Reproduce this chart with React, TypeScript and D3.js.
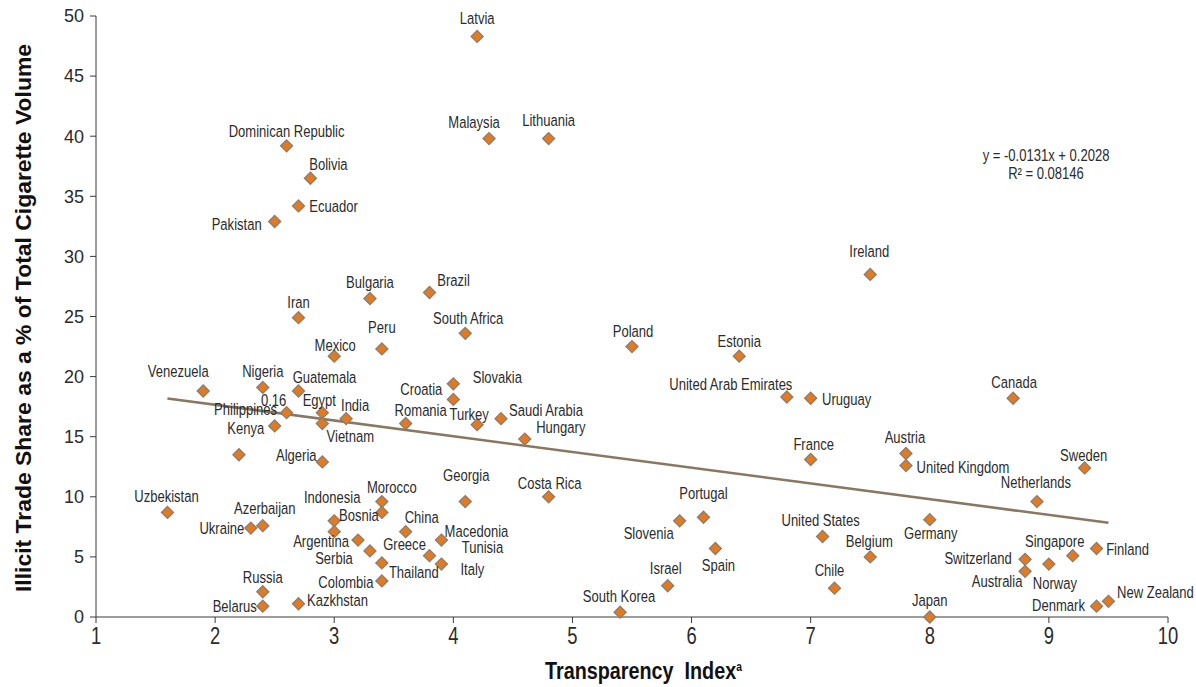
import React from "react";
import * as d3 from "d3";

// ---------- data ----------
const countries = [
  "Latvia", "Malaysia", "Lithuania", "Dominican Republic", "Bolivia", "Ecuador", "Pakistan",
  "Bulgaria", "Brazil", "Iran", "Peru", "South Africa", "Mexico", "Nigeria", "Guatemala",
  "Venezuela", "Philippines", "", "Egypt", "India", "Kenya", "Vietnam", "Algeria",
  "Uzbekistan", "Azerbaijan", "Ukraine", "Indonesia", " ", "Morocco", "Bosnia", "China",
  "Macedonia", "Argentina", "Greece", "Serbia", "Thailand", "Italy", "Russia", "Colombia",
  "Belarus", "Kazkhstan", "Georgia", "Croatia", "Slovakia", "Romania", "Turkey", "Saudi Arabia",
  "Hungary", "Costa Rica", "Portugal", "Slovenia", "Spain", "Israel", "South Korea",
  "United States", "Chile", "Belgium", "Germany", "Japan", "Switzerland", "Australia", "Norway",
  "Singapore", "Finland", "Denmark", "New Zealand", "Netherlands", "Sweden", "Austria",
  "United Kingdom", "France", "Canada", "Uruguay", "United Arab Emirates", "Estonia", "Poland",
  "Ireland",
];
const transparency = [
  4.2, 4.3, 4.8, 2.6, 2.8, 2.7, 2.5,
  3.3, 3.8, 2.7, 3.4, 4.1, 3.0, 2.4, 2.7,
  1.9, 2.6, 2.2, 2.9, 3.1, 2.5, 2.9, 2.9,
  1.6, 2.4, 2.3, 3.0, 3.0, 3.4, 3.4, 3.6,
  3.9, 3.2, 3.8, 3.3, 3.4, 3.9, 2.4, 3.4,
  2.4, 2.7, 4.1, 4.0, 4.0, 3.6, 4.2, 4.4,
  4.6, 4.8, 6.1, 5.9, 6.2, 5.8, 5.4,
  7.1, 7.2, 7.5, 8.0, 8.0, 8.8, 8.8, 9.0,
  9.2, 9.4, 9.4, 9.5, 8.9, 9.3, 7.8,
  7.8, 7.0, 8.7, 7.0, 6.8, 6.4, 5.5,
  7.5,
];
const illicitShare = [
  48.3, 39.8, 39.8, 39.2, 36.5, 34.2, 32.9,
  26.5, 27.0, 24.9, 22.3, 23.6, 21.7, 19.1, 18.8,
  18.8, 17.0, 13.5, 17.0, 16.5, 15.9, 16.1, 12.9,
  8.7, 7.6, 7.4, 8.0, 7.1, 9.6, 8.7, 7.1,
  6.4, 6.4, 5.1, 5.5, 4.5, 4.4, 2.1, 3.0,
  0.9, 1.1, 9.6, 19.4, 18.1, 16.1, 16.0, 16.5,
  14.8, 10.0, 8.3, 8.0, 5.7, 2.6, 0.4,
  6.7, 2.4, 5.0, 8.1, 0.0, 4.8, 3.8, 4.4,
  5.1, 5.7, 0.9, 1.3, 9.6, 12.4, 13.6,
  12.6, 13.1, 18.2, 18.2, 18.3, 21.7, 22.5,
  28.5,
];
const xTicks = [1, 2, 3, 4, 5, 6, 7, 8, 9, 10];
const yTicks = [0, 5, 10, 15, 20, 25, 30, 35, 40, 45, 50];
const trendSlope = -1.31; // -0.0131 per index point, expressed in %
const trendIntercept = 20.28;
const trendRange = [1.6, 9.5];
const equationLines = ["y = -0.0131x + 0.2028", "R² = 0.08146"];
const xTitle = "Transparency\u00a0\u00a0Index";
const yTitle = "Illicit Trade Share as a % of Total Cigarette Volume";

// ---------- label placement (pixel offsets of label centre from marker) ----------
const labelOffsets: Record<string, [number, number]> = {
  "Latvia": [0, -18], "Malaysia": [-15, -16], "Lithuania": [0, -18], "Dominican Republic": [0, -15],
  "Bolivia": [18, -14], "Ecuador": [35, 0], "Pakistan": [-38, 3], "Bulgaria": [0, -16],
  "Brazil": [24, -12], "Iran": [0, -15], "Peru": [0, -22], "South Africa": [3, -15],
  "Mexico": [1, -11], "Nigeria": [0, -16], "Guatemala": [26, -14], "Venezuela": [-25, -20],
  "Philippines": [-41, -3], "Egypt": [-3, -12], "India": [9, -13], "Kenya": [-29, 2],
  "Vietnam": [28, 13], "Algeria": [-26, -7], "Uzbekistan": [-1, -16], "Azerbaijan": [2, -17],
  "Ukraine": [-29, 0], "Indonesia": [-2, -24], "Morocco": [10, -14], "Bosnia": [-23, 3],
  "China": [16, -14], "Macedonia": [35, -9], "Argentina": [-37, 1], "Greece": [-25, -11],
  "Serbia": [-36, 7], "Thailand": [32, 9], "Italy": [31, 5], "Russia": [0, -15],
  "Colombia": [-36, 1], "Belarus": [-28, 0], "Kazkhstan": [39, -4], "Georgia": [1, -26],
  "Croatia": [-32, 5], "Slovakia": [44, -22], "Romania": [15, -13], "Turkey": [-8, -10],
  "Saudi Arabia": [45, -8], "Hungary": [36, -12], "Costa Rica": [1, -14], "Portugal": [0, -24],
  "Slovenia": [-31, 12], "Spain": [3, 17], "Israel": [-2, -18], "South Korea": [-1, -16],
  "United States": [-2, -16], "Chile": [-5, -18], "Belgium": [-1, -16], "Germany": [1, 14],
  "Japan": [0, -17], "Switzerland": [-47, -1], "Australia": [-28, 10], "Norway": [6, 19],
  "Singapore": [-18, -14], "Finland": [31, 1], "Denmark": [-38, -1], "New Zealand": [47, -9],
  "Netherlands": [-1, -19], "Sweden": [-1, -13], "Austria": [-1, -16], "United Kingdom": [57, 2],
  "France": [3, -15], "Canada": [1, -16], "Uruguay": [36, 1], "United Arab Emirates": [-56, -13],
  "Estonia": [0, -15], "Poland": [1, -15], "Ireland": [-1, -23],
};
const extraLabels = [
  { text: "0.16", anchor: "Philippines", dx: -13, dy: -12 },
  { text: "Tunisia", anchor: "Macedonia", dx: 41, dy: 7 },
];

const W = 1196;
const H = 687;
const sans = "'Liberation Sans', Arial, Helvetica, sans-serif";
const LABEL_SIZE = 16.5;
const LABEL_SX = 0.79;
const textColor = "#2b2b2b";

function NarrowText(props: {
  x: number;
  y: number;
  size: number;
  sx: number;
  anchor?: string;
  weight?: string;
  dy?: string;
  fill?: string;
  children: React.ReactNode;
}) {
  const { x, y, size, sx, anchor = "middle", weight = "normal", dy, fill = textColor, children } = props;
  return (
    <text
      transform={`translate(${x},${y}) scale(${sx},1)`}
      dy={dy}
      textAnchor={anchor}
      fontFamily={sans}
      fontSize={size}
      fontWeight={weight}
      fill={fill}
    >
      {children}
    </text>
  );
}

export default function App() {
  const x = d3.scaleLinear().domain([1, 10]).range([96, 1168]);
  const y = d3.scaleLinear().domain([0, 50]).range([617, 16]);
  const diamond = d3.symbol().type(d3.symbolSquare).size(72)() as string;
  const trend = d3
    .line<number>()
    .x((d) => x(d))
    .y((d) => y(trendIntercept + trendSlope * d))(trendRange) as string;
  const axisColor = "#3a3a3a";

  const idx = (name: string) => countries.indexOf(name);

  return (
    <svg width={W} height={H} style={{ position: "absolute", left: 0, top: 0 }}>
      <rect width={W} height={H} fill="#fff" />
      {/* Y axis */}
      <line x1={x(1)} x2={x(1)} y1={y(0)} y2={y(50)} stroke={axisColor} strokeWidth={1} />
      {yTicks.map((t) => (
        <g key={"y" + t}>
          <line x1={x(1) - 6} x2={x(1)} y1={y(t)} y2={y(t)} stroke={axisColor} />
          <text x={84} y={y(t)} dy="0.35em" textAnchor="end" fontFamily={sans} fontSize={18} fill={textColor}>
            {t}
          </text>
        </g>
      ))}
      {/* X axis */}
      <line x1={x(1)} x2={x(10)} y1={y(0)} y2={y(0)} stroke={axisColor} strokeWidth={1} />
      {xTicks.map((t) => (
        <g key={"x" + t}>
          <line x1={x(t)} x2={x(t)} y1={y(0)} y2={y(0) + 6} stroke={axisColor} />
          <NarrowText x={x(t)} y={644} size={23} sx={0.8}>
            {t}
          </NarrowText>
        </g>
      ))}
      {/* titles */}
      <NarrowText x={545} y={679} size={23} sx={0.86} anchor="start" weight="bold" fill="#111">
        {xTitle}
        <tspan fontSize={12} dy={-8}>a</tspan>
      </NarrowText>
      <text
        transform={`translate(31, 318) rotate(-90)`}
        textAnchor="middle"
        fontFamily={sans}
        fontWeight="bold"
        fontSize={22}
        fill="#111"
        textLength={548}
        lengthAdjust="spacingAndGlyphs"
      >
        {yTitle}
      </text>
      {/* trend line */}
      <path d={trend} fill="none" stroke="#8a7762" strokeWidth={2.5} />
      {/* equation */}
      {equationLines.map((l, i) => (
        <NarrowText key={l} x={1046} y={155 + i * 18} dy="0.35em" size={LABEL_SIZE} sx={LABEL_SX}>
          {l}
        </NarrowText>
      ))}
      {/* markers */}
      {countries.map((c, i) => (
        <path
          key={"m" + i}
          d={diamond}
          transform={`translate(${x(transparency[i])},${y(illicitShare[i])}) rotate(45)`}
          fill="#e27a22"
          stroke="#8c7d6e"
          strokeWidth={1.3}
        />
      ))}
      {/* labels */}
      {countries.map((c, i) => {
        const off = labelOffsets[c];
        if (!c.trim() || !off) return null;
        return (
          <NarrowText
            key={"l" + i}
            x={x(transparency[i]) + off[0]}
            y={y(illicitShare[i]) + off[1]}
            dy="0.35em"
            size={LABEL_SIZE}
            sx={LABEL_SX}
          >
            {c}
          </NarrowText>
        );
      })}
      {extraLabels.map((e) => {
        const i = idx(e.anchor);
        return (
          <NarrowText
            key={"e" + e.text}
            x={x(transparency[i]) + e.dx}
            y={y(illicitShare[i]) + e.dy}
            dy="0.35em"
            size={LABEL_SIZE}
            sx={LABEL_SX}
          >
            {e.text}
          </NarrowText>
        );
      })}
    </svg>
  );
}
